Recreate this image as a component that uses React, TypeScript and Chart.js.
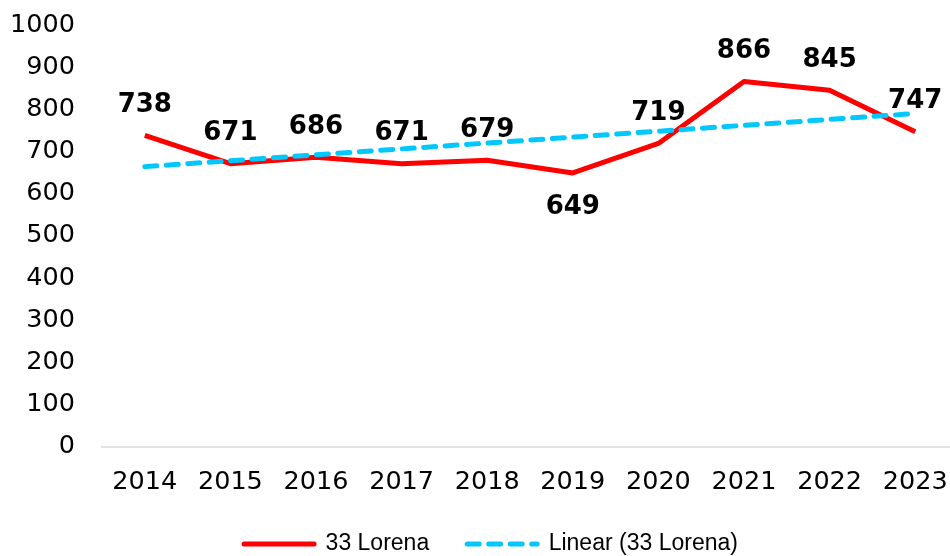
import React, { useEffect, useRef } from 'react';
import { Chart, registerables } from 'chart.js';

Chart.register(...registerables);

const categories = ['2014', '2015', '2016', '2017', '2018', '2019', '2020', '2021', '2022', '2023'];
const seriesName = '33 Lorena';
const values = [738, 671, 686, 671, 679, 649, 719, 866, 845, 747];
const trendName = 'Linear (33 Lorena)';
const trendCategories = ['2014', '2023'];
const trendValues = [664, 790];
const yMin = 0;
const yMax = 1000;
const yStep = 100;
const labelsBelow = [5];

const valueLabelPlugin = {
  id: 'valueLabels',
  afterDatasetsDraw(chart: any) {
    const meta = chart.getDatasetMeta(0);
    const data = chart.data.datasets[0].data;
    const ctx = chart.ctx;
    ctx.save();
    ctx.font = 'bold 26px "DejaVu Sans"';
    ctx.fillStyle = '#000000';
    ctx.textAlign = 'center';
    ctx.textBaseline = 'middle';
    meta.data.forEach((pt: any, i: number) => {
      const below = labelsBelow.includes(i);
      ctx.fillText(String(data[i]), pt.x, pt.y + (below ? 34 : -30));
    });
    ctx.restore();
  },
};

export default function App() {
  const ref = useRef<HTMLCanvasElement | null>(null);

  useEffect(() => {
    if (!ref.current) return;
    const chart = new Chart(ref.current, {
      type: 'line',
      data: {
        labels: categories,
        datasets: [
          {
            label: seriesName,
            data: values,
            borderColor: '#ff0000',
            backgroundColor: '#ff0000',
            borderWidth: 5,
            pointRadius: 0,
            tension: 0,
            order: 1,
            borderJoinStyle: 'round',
          },
          {
            label: trendName,
            data: trendCategories.map((c, i) => ({ x: c, y: trendValues[i] })),
            borderColor: '#00c8ff',
            backgroundColor: '#00c8ff',
            borderWidth: 5,
            borderDash: [12, 9.5],
            borderCapStyle: 'round',
            pointRadius: 0,
            tension: 0,
            order: 0,
          },
        ],
      },
      options: {
        responsive: false,
        animation: false,
        layout: { padding: { left: 0, right: 0, top: 25, bottom: -9.5 } },
        scales: {
          x: {
            type: 'category',
            offset: true,
            grid: { display: false, drawTicks: false },
            border: { display: true, color: '#e3e3e3', width: 2 },
            ticks: {
              color: '#000000',
              font: { family: '"DejaVu Sans"', size: 25.5 },
              padding: 21,
              autoSkip: false,
              maxRotation: 0,
            },
            afterFit: (s: any) => { s.height = 48; },
          },
          y: {
            type: 'linear',
            min: yMin,
            max: yMax,
            grid: { display: false, drawTicks: false },
            border: { display: false },
            ticks: {
              stepSize: yStep,
              color: '#000000',
              font: { family: '"DejaVu Sans"', size: 25.5 },
              padding: 27,
              callback: (v: any) => String(v),
            },
            afterFit: (s: any) => {
              s.width = 102;
              s.paddingTop = 0;
              s.paddingBottom = 0;
            },
          },
          yR: {
            type: 'linear',
            position: 'right',
            display: true,
            grid: { display: false, drawTicks: false },
            border: { display: false },
            ticks: { display: false },
            afterFit: (s: any) => { s.width = 24; },
          },
        },
        plugins: {
          tooltip: { enabled: false },
          legend: {
            position: 'bottom',
            labels: {
              usePointStyle: true,
              pointStyleWidth: 70,
              padding: 38,
              color: '#000000',
              font: { family: '"Liberation Sans"', size: 23 },
              generateLabels: (ch: any) =>
                ch.data.datasets.map((ds: any, i: number) => ({
                  text: ds.label,
                  fillStyle: ds.borderColor,
                  strokeStyle: ds.borderColor,
                  lineWidth: 5,
                  lineDash: ds.borderDash || [],
                  lineCap: 'round',
                  pointStyle: 'line',
                  hidden: false,
                  datasetIndex: i,
                  fontColor: '#000000',
                })),
            },
          },
        },
      },
      plugins: [valueLabelPlugin],
    } as any);
    return () => chart.destroy();
  }, []);

  return (
    <div style={{ position: 'fixed', left: 0, top: 0, width: 950, height: 556, overflow: 'hidden', background: '#fff' }}>
      <canvas ref={ref} width={982} height={556} style={{ display: 'block' }} />
    </div>
  );
}
